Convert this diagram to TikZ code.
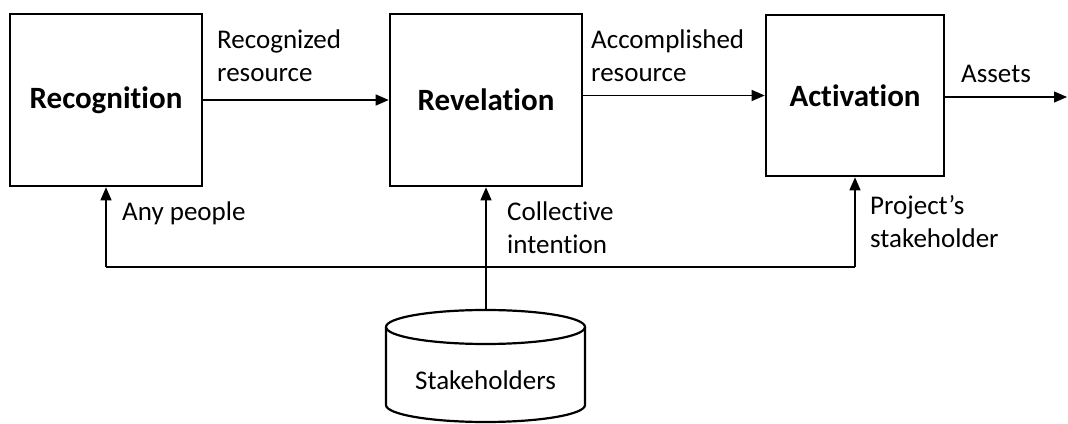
\documentclass[tikz,border=0pt]{standalone}
\usepackage{fontspec}
\setmainfont{Carlito}[Ligatures=NoCommon]
\usetikzlibrary{arrows.meta}
\begin{document}
\begin{tikzpicture}[x=1pt,y=1pt,
  procbox/.style={draw,line width=2.6pt,minimum width=192pt,minimum height=172pt,inner sep=0pt,font=\fontsize{31}{37}\selectfont\bfseries},
  lbl/.style={inner sep=0pt,align=left,anchor=west,font=\fontsize{27}{33}\selectfont},
  conn/.style={line width=1.3pt,-{Triangle[length=13pt,width=11pt]}},
  plainline/.style={line width=1.3pt}]
\useasboundingbox (0,0) rectangle (1068,423);
\node[procbox] (rec) at (106,323) {Recognition};
\node[procbox] (rev) at (486,323) {Revelation};
\node[procbox,minimum width=178pt,minimum height=161pt] (act) at (855,327.5) {\raisebox{-2pt}{Activation}};
\coordinate (out) at (1067,326);
% cylinder
\draw[line width=2.2pt] (386,96) -- (386,18) arc[start angle=180,end angle=360,x radius=99.5,y radius=17] -- (585,96);
\draw[line width=2.2pt] (485.5,96) ellipse [x radius=99.5,y radius=17];
\node[inner sep=0pt,font=\fontsize{27}{33}\selectfont] (stk) at (485.5,43) {Stakeholders};
\coordinate (stktop) at (486,113);
\coordinate (junc) at (486,156);
\coordinate (jl) at (106,156);
\coordinate (jr) at (855,156);
% connectors
\draw[conn] (rec.east) -- (rev.west);
\draw[conn] (rev.east |- act.west) -- (act.west);
\draw[conn] (act.east |- out) -- (out);
\draw[conn] (stktop) -- (rev.south);
\draw[conn] (jl) -- (rec.south);
\draw[conn] (jr) -- (act.south);
\draw[plainline] (jl) -- (jr);
% labels
\node[lbl] (l1) at (217,367) {Recognized\\resource};
\node[lbl] (l2) at (591,367) {Accomplished\\resource};
\node[lbl] (l3) at (961,349) {Assets};
\node[lbl] (l4) at (122,210) {Any people};
\node[lbl] (l5) at (507,195) {Collective\\intention};
\node[lbl] (l6) at (870,201.5) {Project’s\\stakeholder};
\end{tikzpicture}
\end{document}
